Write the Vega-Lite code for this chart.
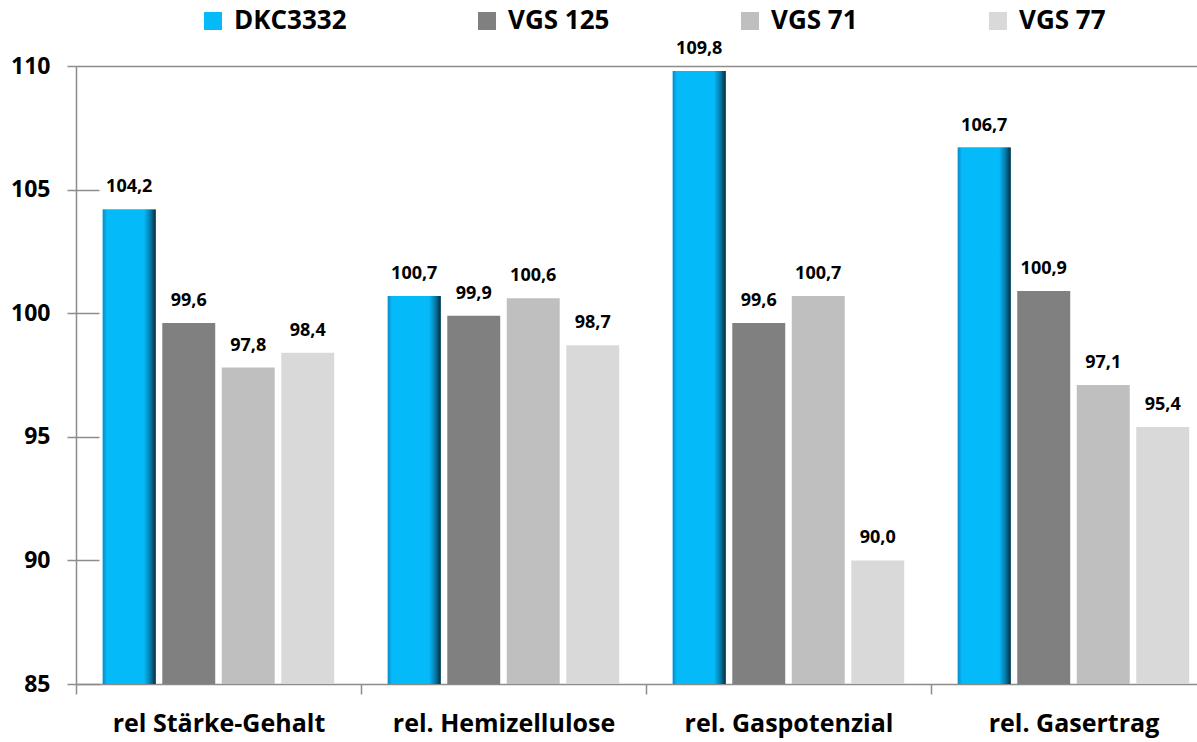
{
  "$schema": "https://vega.github.io/schema/vega-lite/v6.json",
  "width": 1112,
  "height": 618,
  "autosize": {"type": "none"},
  "padding": {"left": 76, "top": 66, "right": 9, "bottom": 58},
  "background": "white",
  "data": {
    "values": [
      {"Kategorie": "rel Stärke-Gehalt", "Sorte": "DKC3332", "Wert": 104.2},
      {"Kategorie": "rel Stärke-Gehalt", "Sorte": "VGS 125", "Wert": 99.6},
      {"Kategorie": "rel Stärke-Gehalt", "Sorte": "VGS 71", "Wert": 97.8},
      {"Kategorie": "rel Stärke-Gehalt", "Sorte": "VGS 77", "Wert": 98.4},
      {"Kategorie": "rel. Hemizellulose", "Sorte": "DKC3332", "Wert": 100.7},
      {"Kategorie": "rel. Hemizellulose", "Sorte": "VGS 125", "Wert": 99.9},
      {"Kategorie": "rel. Hemizellulose", "Sorte": "VGS 71", "Wert": 100.6},
      {"Kategorie": "rel. Hemizellulose", "Sorte": "VGS 77", "Wert": 98.7},
      {"Kategorie": "rel. Gaspotenzial", "Sorte": "DKC3332", "Wert": 109.8},
      {"Kategorie": "rel. Gaspotenzial", "Sorte": "VGS 125", "Wert": 99.6},
      {"Kategorie": "rel. Gaspotenzial", "Sorte": "VGS 71", "Wert": 100.7},
      {"Kategorie": "rel. Gaspotenzial", "Sorte": "VGS 77", "Wert": 90.0},
      {"Kategorie": "rel. Gasertrag", "Sorte": "DKC3332", "Wert": 106.7},
      {"Kategorie": "rel. Gasertrag", "Sorte": "VGS 125", "Wert": 100.9},
      {"Kategorie": "rel. Gasertrag", "Sorte": "VGS 71", "Wert": 97.1},
      {"Kategorie": "rel. Gasertrag", "Sorte": "VGS 77", "Wert": 95.4}
    ]
  },
  "encoding": {
    "x": {
      "field": "Kategorie",
      "type": "nominal",
      "sort": ["rel Stärke-Gehalt", "rel. Hemizellulose", "rel. Gaspotenzial", "rel. Gasertrag"],
      "scale": {"range": [0, 1140], "paddingInner": 0, "paddingOuter": 0},
      "axis": {
        "title": null,
        "tickBand": "extent",
        "tickSize": 10,
        "tickColor": "#8c8c8c",
        "tickWidth": 1.5,
        "domainColor": "#8c8c8c",
        "domainWidth": 1.5,
        "labelFontSize": 25,
        "labelFontWeight": "bold",
        "labelFont": "Open Sans",
        "labelColor": "black",
        "labelPadding": 17,
        "labelAngle": 0,
        "labelLimit": 400,
        "grid": false
      }
    },
    "xOffset": {
      "field": "Sorte",
      "type": "nominal",
      "scale": {"domain": ["DKC3332", "VGS 125", "VGS 71", "VGS 77"], "paddingInner": 0.11, "paddingOuter": 0.45}
    },
    "y": {
      "field": "Wert",
      "type": "quantitative",
      "scale": {"domain": [85, 110], "nice": false, "zero": false},
      "axis": {
        "title": null,
        "values": [85, 90, 95, 100, 105, 110],
        "tickSize": 9,
        "tickColor": "#8c8c8c",
        "tickWidth": 1.5,
        "domainColor": "#8c8c8c",
        "domainWidth": 1.5,
        "labelFontSize": 23,
        "labelFontWeight": "bold",
        "labelFont": "Open Sans",
        "labelColor": "black",
        "labelPadding": 17,
        "grid": true,
        "gridColor": "#8c8c8c",
        "gridWidth": 1.5,
        "gridDash": {"condition": {"test": "datum.value === 110", "value": [3000, 0]}, "value": [23, 3000]}
      }
    }
  },
  "layer": [
    {
      "mark": {"type": "bar"},
      "encoding": {
        "y2": {"datum": 85},
        "color": {
          "field": "Sorte",
          "type": "nominal",
          "scale": {"domain": ["DKC3332", "VGS 125", "VGS 71", "VGS 77"], "range": ["#05baf8", "#808080", "#bfbfbf", "#d9d9d9"]},
          "legend": {
            "orient": "none",
            "legendX": 124,
            "legendY": -58,
            "direction": "horizontal",
            "title": null,
            "symbolType": "square",
            "symbolSize": 324,
            "symbolStrokeWidth": 0,
            "labelFontSize": 26,
            "labelFontWeight": "bold",
            "labelFont": "Open Sans",
            "labelColor": "black",
            "labelOffset": 8,
            "labelLimit": 400,
            "columnPadding": 127,
            "padding": 0
          }
        }
      }
    },
    {
      "transform": [{"filter": "datum.Sorte === 'DKC3332'"}],
      "mark": {
        "type": "bar",
        "color": {
          "gradient": "linear",
          "x1": 0, "y1": 0, "x2": 1, "y2": 0,
          "stops": [
            {"offset": 0, "color": "#0a8cc4"},
            {"offset": 0.08, "color": "#05baf8"},
            {"offset": 0.78, "color": "#05baf8"},
            {"offset": 0.9, "color": "#0679a8"},
            {"offset": 1, "color": "#0b2a3b"}
          ]
        }
      },
      "encoding": {"y2": {"datum": 85}}
    },
    {
      "mark": {"type": "text", "dy": -17, "baseline": "alphabetic", "fontSize": 18, "fontWeight": "bold", "font": "Open Sans", "color": "black"},
      "encoding": {"text": {"field": "Wert", "type": "quantitative", "format": ".1f"}}
    }
  ],
  "config": {
    "font": "Open Sans",
    "view": {"stroke": null},
    "locale": {"number": {"decimal": ",", "thousands": ".", "grouping": [3], "currency": ["", " €"]}}
  }
}
